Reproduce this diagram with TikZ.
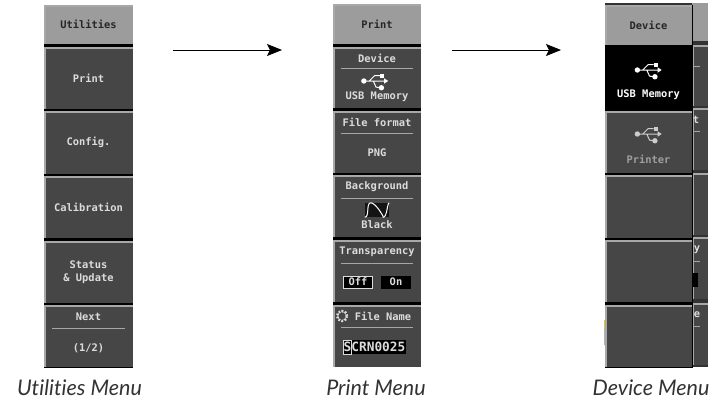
\documentclass[tikz,border=0pt]{standalone}
\usepackage{fontspec}
\setmainfont[Ligatures=NoCommon]{Lato}
\newfontfamily\lcdfont{DejaVu Sans Mono}
\usetikzlibrary{positioning, arrows.meta}
\definecolor{btngray}{HTML}{464646}
\definecolor{titlegray}{HTML}{9C9C9C}
\definecolor{edgegray}{HTML}{A8A8A8}
\definecolor{lcdtext}{HTML}{DCDCDC}
\tikzset{
	>={Stealth[length=15pt,width=12pt,inset=3pt]}, % arrow heads of the two long arrows
	menubtn/.style={minimum width=#1, inner sep=0pt, fill=btngray, text=lcdtext,
		font=\lcdfont\bfseries\fontsize{10.4}{13}\selectfont, align=center,
		path picture={
			\draw[edgegray, line width=3pt] (path picture bounding box.south west) -- (path picture bounding box.north west) -- (path picture bounding box.north east);
		}},
	menubtn/.default=89pt,
	titlebtn/.style={menubtn=#1, fill=titlegray, text=black!85},
	titlebtn/.default=89pt,
	lcdlabel/.style={text=lcdtext, inner sep=0pt, font=\lcdfont\bfseries\fontsize{10.4}{13}\selectfont},
	sepline/.style={draw=gray!70, line width=0.8pt},
	caption/.style={inner sep=0pt, text=black!80, font=\itshape\fontsize{21.5}{24}\selectfont},
}

\newcommand{\usbicon}[2]{% centre, colour
	\begin{scope}[shift={(#1)}, scale=1.35]
		\fill[#2] (-9,0) circle (2pt);
		\fill[#2] (9,0) -- (6,-2) -- (6,2) -- cycle;
		\fill[#2] (3,-5) rectangle (6,-2.5);
		\fill[#2] (4,5) circle (2pt);
		\draw[#2, line width=1pt] (-9,0) -- (7,0) (-5,0) -- (-1,-4) -- (3,-4) (-2,0) -- (0,4.5) -- (3,5);
	\end{scope}}

\begin{document}
\begin{tikzpicture}[x=1pt, y=-1pt]
	\useasboundingbox (0,0) rectangle (720,400);
	\fill[white] (0,0) rectangle (720,400);

	% utilities menu
	\fill[black] (44,5) rectangle (133,368);
	\node[titlebtn, minimum height=39pt] (utilTitle) at (88.5,24.5) {Utilities};
	\node[menubtn, minimum height=62pt] (utilPrint) at (88.5,78) {Print};
	\node[menubtn, minimum height=62pt] (utilConfig) at (88.5,142.5) {Config.};
	\node[menubtn, minimum height=62pt] (utilCalib) at (88.5,207) {Calibration};
	\node[menubtn, minimum height=62pt] (utilStatus) at (88.5,272) {Status\\\& Update};
	\node[menubtn, minimum height=62pt] (utilNext) at (88.5,336) {};
	\node[lcdlabel] (utilNextA) at (88.5,317) {Next};
	\node[lcdlabel] (utilNextB) at (88.5,348) {(1/2)};
	\draw[sepline] (52,328) -- (125,328);

	% print menu
	\fill[black] (333,4) rectangle (421,367);
	\node[titlebtn=88pt, minimum height=39pt] (prnTitle) at (377,24) {Print};
	\node[menubtn=88pt, minimum height=61pt] (prnDevice) at (377,77.5) {};
	\node[lcdlabel] (prnDevA) at (377,58) {Device};
	\draw[sepline] (341,68) -- (413,68);
	\usbicon{376,81}{white}
	\node[lcdlabel] (prnDevB) at (377,97) {USB Memory};
	\node[menubtn=88pt, minimum height=62pt] (prnFile) at (377,142) {};
	\node[lcdlabel] (prnFileA) at (377,122) {File format};
	\draw[sepline] (341,133) -- (413,133);
	\node[lcdlabel] (prnFileB) at (377,153) {PNG};
	\node[menubtn=88pt, minimum height=62pt] (prnBack) at (377,206) {};
	\node[lcdlabel] (prnBackA) at (377,187) {Background};
	\draw[sepline] (341,198) -- (413,198);
	\node[fill=black!92, minimum width=24pt, minimum height=14pt, inner sep=0pt] (prnWave) at (377,210) {};
	\draw[white, line width=1pt] (prnWave.south west) .. controls ([xshift=5pt]prnWave.south west) and ([xshift=1pt]prnWave.north west) .. ([xshift=6pt]prnWave.north west) .. controls ([xshift=11pt]prnWave.north west) and ([xshift=7pt]prnWave.south) .. ([xshift=-6pt]prnWave.south east) .. controls ([xshift=-2pt]prnWave.south east) and ([xshift=-2pt]prnWave.north east) .. (prnWave.north east);
	\node[lcdlabel] (prnBackB) at (377,225) {Black};
	\node[menubtn=88pt, minimum height=62pt] (prnTrans) at (377,271) {};
	\node[lcdlabel] (prnTransA) at (377,252) {Transparency};
	\draw[sepline] (341,263) -- (413,263);
	\node[fill=black, draw=lcdtext, line width=0.7pt, minimum width=29pt, minimum height=12pt, lcdlabel] (prnOff) at (358,282) {Off};
	\node[fill=black, minimum width=30pt, minimum height=13pt, lcdlabel] (prnOn) at (396,282) {On};
	\node[menubtn=88pt, minimum height=62pt] (prnName) at (377,336) {};
	\node[lcdlabel] (prnNameA) at (383,316) {File Name};
	\draw[lcdtext, line width=2.4pt, dash pattern=on 1.6pt off 1.6pt] (342,316) circle (5pt);
	\draw[lcdtext, line width=0.5pt] (342,316) circle (4.4pt);
	\draw[sepline] (341,327) -- (413,327);
	\node[fill=black, minimum width=63pt, minimum height=14pt, lcdlabel, font=\lcdfont\bfseries\fontsize{12.8}{14}\selectfont] (prnNameB) at (374.5,347) {SCRN0025};
	\draw[lcdtext, line width=0.6pt] (343,340) rectangle (351,354);

	% device menu and the panel behind it
	\fill[black!80] (605,3) rectangle (708,367);
	\fill[titlegray] (692,3) rectangle (708,41);
	\node[menubtn=16pt, minimum height=61pt] (backA) at (700,75.5) {};
	\node[menubtn=16pt, minimum height=62pt] (backB) at (700,139) {};
	\node[menubtn=16pt, minimum height=62pt] (backC) at (700,204) {};
	\node[menubtn=16pt, minimum height=62pt] (backD) at (700,268) {};
	\node[menubtn=16pt, minimum height=62pt] (backE) at (700,334) {};
	\node[lcdlabel] (backT) at (696,120) {t};
	\node[lcdlabel] (backY) at (697,250) {y};
	\node[lcdlabel] (backS) at (697,315) {e};
	\fill[black] (693,273) rectangle (698,287);
	\draw[sepline] (692,66) -- (700,66) (692,131) -- (700,131) (692,261) -- (700,261) (692,326) -- (700,326);
	\fill[yellow!80!black] (603.5,320) rectangle (605.5,328);
	\fill[gray!60] (603.5,328) rectangle (605.5,345);

	\fill[black] (605,5) rectangle (693,368);
	\node[titlebtn=87pt, minimum height=39pt] (devTitle) at (648.5,25) {Device};
	\node[menubtn=87pt, minimum height=61pt, fill=black, path picture={}] (devUsb) at (648.5,78) {};
	\usbicon{649.5,70}{white}
	\node[lcdlabel, text=white] (devUsbA) at (648.5,95) {USB Memory};
	\node[menubtn=87pt, minimum height=62pt] (devPrinter) at (648.5,142) {};
	\usbicon{649.5,134}{gray!40}
	\node[lcdlabel, text=gray!75] (devPrinterA) at (648.5,159) {Printer};
	\node[menubtn=87pt, minimum height=62pt] (devC) at (648.5,206.5) {};
	\node[menubtn=87pt, minimum height=62pt] (devD) at (648.5,271) {};
	\node[menubtn=87pt, minimum height=62pt] (devE) at (648.5,336) {};

	% captions
	\node[caption] (capUtil) at (79.5,388) {Utilities Menu};
	\node[caption] (capPrint) at (376,388) {Print Menu};
	\node[caption] (capDevice) at (651,388) {Device Menu};

	% arrows between the menus
	\coordinate (arrAs) at (173,50);
	\coordinate (arrAe) at (282,50);
	\coordinate (arrBs) at (452,50);
	\coordinate (arrBe) at (561,50);
	\draw[->, line width=0.8pt] (arrAs) -- (arrAe);
	\draw[->, line width=0.8pt] (arrBs) -- (arrBe);
\end{tikzpicture}
\end{document}
